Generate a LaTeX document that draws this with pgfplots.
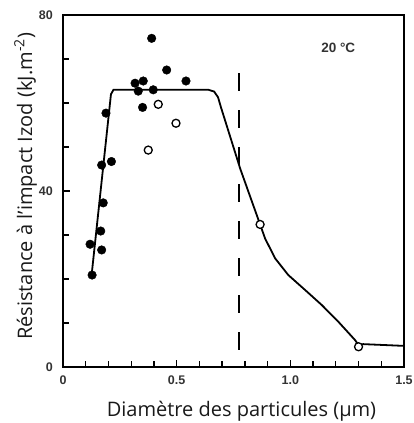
\documentclass[border=0pt]{standalone}
\usepackage{fontspec}
\setmainfont{Open Sans}
\newfontfamily\tickfont{Liberation Sans}
\usepackage{pgfplots}
\pgfplotsset{compat=1.18}

\begin{document}
\begin{tikzpicture}
\useasboundingbox (-63pt,-56pt) rectangle (350pt,367pt);
\begin{axis}[
    scale only axis,
    width=341pt, height=352pt,
    xmin=0, xmax=1.5, ymin=0, ymax=80,
    xtick={0,0.5,1.0,1.5},
    xticklabels={0,0.5,1.0,1.5},
    minor xtick={0.1,0.2,0.3,0.4,0.6,0.7,0.8,0.9,1.1,1.2,1.3,1.4},
    ytick={0,40,80},
    minor ytick={10,20,30,50,60,70},
    xtick pos=bottom, ytick pos=left,
    tick align=inside,
    major tick length=7pt, minor tick length=6pt,
    every tick/.style={black, line width=1.3pt},
    axis line style={line width=1.6pt},
    /pgf/number format/assume math mode=true,
    tick label style={font=\tickfont\bfseries\fontsize{12.5}{12.5}\selectfont, text=black!80, inner sep=0pt},
    xticklabel style={yshift=-9pt},
    yticklabel style={xshift=-10pt},
    xlabel={Diamètre des particules (µm)},
    ylabel={Résistance à l’impact Izod (kJ.m\textsuperscript{-2})},
    label style={font=\fontsize{20}{24}\selectfont, text=black!90},
    xlabel style={at={(axis description cs:0.5235,-0.142)}, anchor=base},
    ylabel style={at={(axis description cs:-0.0909,0.513)}, anchor=base},
    clip=false,
]
% courbe de tendance
\addplot[black, line width=1.8pt, mark=none] coordinates {
    (0.125,20.5) (0.211,62) (0.222,63) (0.64,63) (0.665,62.6) (0.682,61.3)
    (0.695,59) (0.78,45) (0.867,32.4) (0.889,29.2) (0.933,24.7) (0.991,20.9)
    (1.065,17.5) (1.138,14.1) (1.211,10.3) (1.285,6.1) (1.30,5.0) (1.32,5.2) (1.5,4.8)
};
% limite verticale
\addplot[black, line width=2.2pt, dash pattern=on 18pt off 19pt, mark=none] coordinates {
    (0.775,66.8) (0.775,3.2)
};
% points pleins
\addplot[only marks, mark=*, mark size=4.3pt, black] coordinates {
    (0.128,20.9) (0.119,27.9) (0.170,26.6) (0.166,30.9) (0.177,37.3)
    (0.170,45.9) (0.213,46.7) (0.189,57.7) (0.317,64.5) (0.353,65.0)
    (0.331,62.7) (0.397,63.0) (0.350,59.0) (0.390,74.7) (0.456,67.5)
    (0.541,65.0)
};
% points ouverts
\addplot[only marks, mark=*, mark size=4pt, draw=black, fill=white, line width=1.3pt] coordinates {
    (0.375,49.3) (0.419,59.7) (0.497,55.4) (0.867,32.4) (1.300,4.6)
};
\node[font=\tickfont\bfseries\fontsize{13.5}{13.5}\selectfont, text=black!80] at (axis cs:1.211,72.6) {20 °C};
\end{axis}
\end{tikzpicture}
\end{document}
